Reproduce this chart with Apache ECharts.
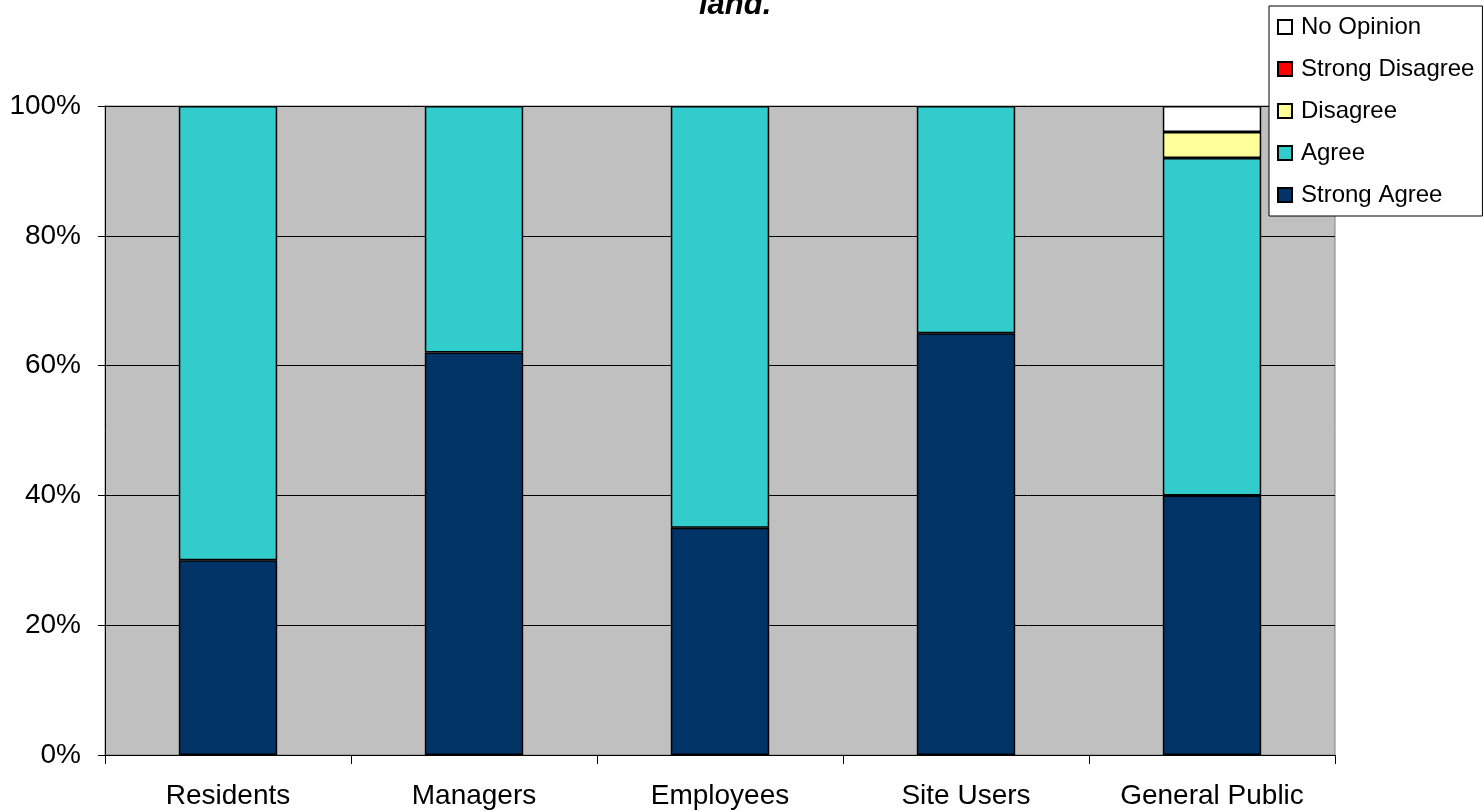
<!DOCTYPE html>
<html>
<head>
<meta charset="utf-8">
<script src="https://cdn.jsdelivr.net/npm/echarts@6/dist/echarts.min.js"></script>
<style>html,body{margin:0;padding:0;background:#fff}#c{width:1484px;height:812px}</style>
</head>
<body>
<div id="c"></div>
<script>
const categories = ['Residents', 'Managers', 'Employees', 'Site Users', 'General Public'];
const strongAgree = [30, 62, 35, 65, 40];
const agree = [70, 38, 65, 35, 52];
const disagree = [0, 0, 0, 0, 4];
const strongDisagree = [0, 0, 0, 0, 0];
const noOpinion = [0, 0, 0, 0, 4];
const yTicks = [0, 20, 40, 60, 80, 100];
const titleText = 'land.';

const font = 'Liberation Sans, Arial, sans-serif';
const chart = echarts.init(document.getElementById('c'));
function s(name, data, color) {
  return {
    name, type: 'bar', stack: 'total',
    data: data.map(v => (v === 0 ? '-' : v)),
    barWidth: '40%',
    itemStyle: { color, borderColor: '#000', borderWidth: 1.5 },
    emphasis: { disabled: true }
  };
}
chart.setOption({
  animation: false,
  title: {
    text: titleText, left: 694, top: -15,
    textStyle: { fontFamily: font, fontSize: 31, fontWeight: 'bold', fontStyle: 'italic', color: '#000' }
  },
  legend: {
    orient: 'vertical', left: 1269, top: 6,
    padding: [9, 8, 9, 8], itemGap: 18, itemWidth: 14, itemHeight: 14,
    icon: 'rect',
    backgroundColor: '#fff', borderColor: '#000', borderWidth: 1,
    textStyle: { fontFamily: font, fontSize: 24, color: '#000', padding: [0, 0, 0, 4] },
    data: ['No Opinion', 'Strong Disagree', 'Disagree', 'Agree', 'Strong Agree'],
    selectedMode: false
  },
  grid: {
    left: 105, right: 149, top: 106, bottom: 57,
    show: true, backgroundColor: '#C0C0C0', borderColor: '#808080', borderWidth: 1
  },
  xAxis: {
    type: 'category', data: categories,
    axisLine: { lineStyle: { color: '#000', width: 1 } },
    axisTick: { show: true, length: 9, lineStyle: { color: '#000' } },
    axisLabel: { fontFamily: font, fontSize: 28, color: '#000', margin: 27 }
  },
  yAxis: {
    type: 'value', min: yTicks[0], max: yTicks[yTicks.length - 1], interval: 20,
    axisLine: { show: true, lineStyle: { color: '#000', width: 1 } },
    axisTick: { show: true, length: 7, lineStyle: { color: '#000' } },
    axisLabel: { fontFamily: font, fontSize: 28, color: '#000', margin: 24, formatter: v => v + '%' },
    splitLine: { show: true, lineStyle: { color: '#000', width: 1 } }
  },
  series: [
    s('Strong Agree', strongAgree, '#003366'),
    s('Agree', agree, '#33CCCC'),
    s('Disagree', disagree, '#FFFF99'),
    s('Strong Disagree', strongDisagree, '#FF0000'),
    s('No Opinion', noOpinion, '#FFFFFF')
  ]
});
</script>
</body>
</html>
